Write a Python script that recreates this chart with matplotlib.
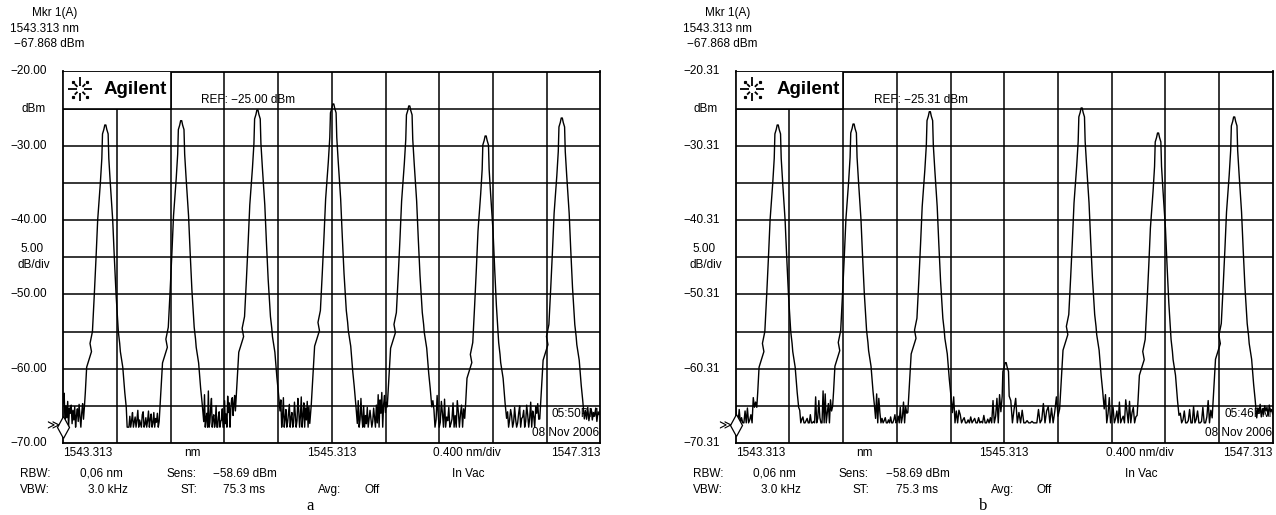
import matplotlib
matplotlib.use("Agg")
import matplotlib.pyplot as plt
import matplotlib.patches as patches
import matplotlib.transforms as mtransforms
import numpy as np

plt.rcParams["font.family"] = ["Liberation Sans", "DejaVu Sans"]

W_PX, H_PX = 1276, 515

# Instrument settings
X_START = 1543.313      # nm
X_STOP = 1547.313       # nm
NM_PER_DIV = 0.400
DB_PER_DIV = 5.0
MKR_NM = 1543.313
MKR_DBM = -67.868

# channel centres, same grid for both traces (nm)
PEAK_NM = [1543.626, 1544.191, 1544.759, 1545.324, 1545.890, 1546.459, 1547.026]

# peak levels (dBm)
PEAK_TOP_A = [-27.20, -26.62, -25.18, -24.37, -24.64, -28.68, -26.26]
PEAK_TOP_B = [-27.51, -27.38, -25.72, -59.50, -25.22, -28.59, -26.43]

FLOOR_A = -67.87
FLOOR_B = -67.60

# measured flank of one channel: dB below the peak vs half width (nm)
SIDE_DROP_DB = [0.0, 0.6, 1.2, 4.5, 7.8, 12.8, 17.8, 22.8, 27.8, 29.4, 30.5, 32.6, 36.0, 38.0, 40.5, 43.0]
LEFT_HALF_NM = [0.004, 0.011, 0.021, 0.026, 0.037, 0.057, 0.069, 0.082, 0.096, 0.114, 0.103, 0.139, 0.149, 0.156, 0.164, 0.175]
RIGHT_HALF_NM = [0.004, 0.011, 0.021, 0.026, 0.037, 0.055, 0.067, 0.080, 0.097, 0.107, 0.112, 0.130, 0.145, 0.156, 0.168, 0.179]

# noise samples between channels (dBm), left edge -> right edge
NOISE_A = [
    [-64.6, -63.3, -67.6, -65.0, -66.6, -64.4, -67.87, -65.3, -66.0, -64.9, -67.4, -65.6, -66.9, -65.1, -67.87,
     -66.3, -65.4, -67.1, -64.8, -66.5, -67.87, -65.9, -64.7, -66.8],
    [-67.87, -67.87, -67.87, -66.4, -67.87, -67.0, -65.9, -67.87, -67.2, -66.5, -67.87, -66.9, -65.6, -67.87,
     -66.9, -67.4, -67.87, -66.2, -65.8, -67.87, -67.5, -66.6, -67.87, -67.0, -65.7, -67.87, -66.8, -66.1,
     -67.87, -67.3, -65.9, -67.87, -66.7, -67.2, -66.0, -67.87],
    [-63.5, -67.87, -66.8, -66.0, -67.87, -63.0, -67.87, -67.2, -65.2, -64.0, -67.87, -66.7, -66.2, -67.87,
     -67.3, -65.0, -67.87, -67.87, -66.5, -65.8, -67.87, -67.1, -66.9, -65.4, -67.87, -67.87, -64.3, -67.4,
     -66.1, -67.87, -63.7, -65.9, -64.6, -67.87, -65.5, -64.2, -63.9, -66.3, -64.8, -63.6],
    [-64.2, -67.87, -66.5, -63.9, -67.87, -66.8, -65.5, -67.87, -67.2, -66.0, -64.8, -67.87, -66.6, -65.9,
     -67.87, -67.3, -64.5, -66.2, -67.87, -67.0, -64.0, -65.6, -67.87, -66.4, -63.8, -67.87, -66.4, -64.6,
     -67.87, -65.3, -66.9, -64.4, -67.87, -65.1],
    [-64.3, -67.87, -66.9, -64.0, -66.5, -67.87, -65.0, -67.87, -66.3, -67.4, -65.2, -67.87, -66.7, -65.6,
     -66.8, -67.87, -67.1, -65.3, -66.6, -67.87, -64.9, -67.3, -63.5, -67.87, -64.2, -66.0, -63.2, -67.87,
     -64.8, -63.6, -65.9, -64.5],
    [-64.3, -65.5, -67.87, -66.9, -63.6, -66.2, -67.87, -67.2, -64.4, -66.0, -67.87, -64.1, -67.87, -66.5,
     -67.0, -65.2, -67.87, -67.4, -66.8, -64.6, -67.87, -66.3, -67.87, -64.3, -65.8, -67.87, -66.1, -64.9,
     -67.87, -65.4],
    [-65.8, -67.87, -66.9, -65.5, -66.3, -67.87, -67.2, -65.2, -66.8, -67.87, -67.3, -66.0, -65.0, -67.87,
     -66.7, -66.5, -65.6, -67.87, -67.1, -64.9, -66.2, -67.87, -66.6, -64.5, -67.87, -65.7, -66.4, -67.87,
     -65.1, -66.0, -64.7, -66.8],
    [-65.6, -66.8, -65.2, -67.0, -66.0, -65.4, -66.9, -65.9, -66.4, -65.3, -67.1, -65.8, -66.2, -65.5],
]
NOISE_B = [
    [-65.4, -67.6, -67.6, -65.8, -67.6, -66.9, -67.6, -67.6, -66.0, -67.6, -65.6, -67.6, -67.2, -66.5, -67.6,
     -64.2, -65.5, -64.8],
    [-65.9, -67.6, -67.1, -66.8, -67.6, -67.6, -67.3, -67.0, -67.6, -67.6, -66.5, -67.6, -67.6, -67.4, -67.6,
     -64.1, -67.6, -67.0, -64.6, -66.9, -67.6, -67.6, -63.3, -67.6, -63.7, -67.6, -66.2, -65.0, -67.6, -64.5,
     -66.0],
    [-67.0, -63.7, -67.6, -64.3, -66.2, -67.6, -67.0, -67.6, -67.3, -66.9, -67.6, -67.6, -67.2, -67.6, -66.8,
     -67.6, -67.6, -67.2, -66.5, -67.6, -67.4, -66.7, -67.6, -65.5, -67.6, -66.8, -64.8, -67.6, -65.4, -66.3],
    [-64.1, -67.6, -66.0, -67.6, -65.9, -66.5, -67.6, -67.2, -66.9, -67.6, -67.6, -67.2, -67.6, -66.8, -67.6,
     -67.3, -67.0, -67.6, -67.6, -66.9, -67.6, -67.4, -67.6, -66.6, -67.6, -67.6, -67.1, -67.6, -66.9, -67.6,
     -64.6, -67.6, -66.7, -64.3, -67.6, -63.8, -66.1],
    [-64.6, -67.6, -65.8, -64.3, -67.6, -66.2, -67.6, -65.9, -67.6, -67.6, -67.3, -67.6, -67.6, -67.4, -67.6,
     -67.6, -67.6, -65.8, -67.6, -67.2, -65.0, -67.6, -66.0, -65.4, -67.6, -65.6, -67.6, -66.1, -64.1, -66.7],
    [-63.8, -67.6, -66.4, -64.2, -67.6, -66.5, -65.5, -67.6, -67.0, -66.0, -67.6, -64.8, -67.6, -67.1, -66.7,
     -67.6, -64.5, -66.0, -67.6, -64.7, -67.6, -66.2, -65.5, -67.6, -66.8],
    [-66.3, -67.6, -67.2, -66.0, -67.6, -67.6, -67.3, -65.8, -67.6, -67.6, -65.4, -67.6, -67.1, -66.0, -67.6,
     -67.6, -67.4, -65.5, -67.6, -67.6, -66.8, -64.6, -67.6, -65.9],
    [-65.6, -66.3, -65.1, -66.8, -65.7, -66.5, -65.3, -66.0, -65.5, -66.7, -65.2, -66.1, -65.8, -66.4],
]

Y_LABELS_A = [-20.00, -30.00, -40.00, -50.00, -60.00, -70.00]
Y_LABELS_B = [-20.31, -30.31, -40.31, -50.31, -60.31, -70.31]
REF_A = -25.00
REF_B = -25.31
CLOCK_A = "05:50PM"
CLOCK_B = "05:46PM"
DATE = "08 Nov 2006"

# page layout (pixels of the 1276x515 sheet)
BOX_LEFT_PX = [63.3, 735.7]
BOX_W_PX = 537.0
BOX_TOP_PX = 71.5
BOX_BOTTOM_PX = 443.0
FS = 8.5


def mnus(s):
    return s.replace("-", "\u2212")


def build_trace(tops, floor, noise):
    drop = np.array(SIDE_DROP_DB)
    lh = np.array(LEFT_HALF_NM)
    rh = np.array(RIGHT_HALF_NM)
    xs, ys = [], []
    prev_x = None
    for i, (c, top) in enumerate(zip(PEAK_NM, tops)):
        keep = top - drop > floor + 0.4
        lx = (c - lh[keep])[::-1]
        ly = (top - drop[keep])[::-1]
        gap = noise[i]
        if prev_x is None:
            gx = np.linspace(X_START, lx[0], len(gap) + 1)[:-1]
        else:
            gx = np.linspace(prev_x, lx[0], len(gap) + 2)[1:-1]
        xs += list(gx) + list(lx)
        ys += list(gap) + list(ly)
        rx = c + rh[keep]
        ry = top - drop[keep]
        xs += list(rx)
        ys += list(ry)
        prev_x = rx[-1]
    gap = noise[-1]
    gx = np.linspace(prev_x, X_STOP, len(gap) + 1)[1:]
    xs += list(gx)
    ys += list(gap)
    return np.array(xs), np.array(ys)


def draw_logo(ax, box_h_px):
    # starburst left of the "Agilent" word
    cx = (80.0 - 63.3) / BOX_W_PX
    cy = 1.0 - (89.3 - BOX_TOP_PX) / box_h_px
    for k in range(8):
        ang = np.deg2rad(45 * k)
        r0, r1 = (3.5, 12.0) if k % 2 == 0 else (3.5, 7.5)
        x0 = cx + r0 * np.cos(ang) / BOX_W_PX
        x1 = cx + r1 * np.cos(ang) / BOX_W_PX
        y0 = cy + r0 * np.sin(ang) / box_h_px
        y1 = cy + r1 * np.sin(ang) / box_h_px
        ax.plot([x0, x1], [y0, y1], color="black", lw=1.3, transform=ax.transAxes,
                zorder=5, solid_capstyle="butt")
        if k % 2 == 1:
            ax.plot(cx + 10.5 * np.cos(ang) / BOX_W_PX, cy + 10.5 * np.sin(ang) / box_h_px,
                    "s", ms=1.3, color="black", transform=ax.transAxes, zorder=5)
    ax.text((104.0 - 63.3) / BOX_W_PX, cy, "Agilent", transform=ax.transAxes,
            fontsize=13.5, fontweight="bold", ha="left", va="center", zorder=5)


def draw_panel(fig, left_px, y_labels, tops, floor, noise, ref, clock, letter):
    box_h_px = BOX_BOTTOM_PX - BOX_TOP_PX
    ax = fig.add_axes([left_px / W_PX, 1 - BOX_BOTTOM_PX / H_PX,
                       BOX_W_PX / W_PX, box_h_px / H_PX])
    y_top = y_labels[0]
    ax.set_xlim(X_START, X_STOP)
    ax.set_ylim(y_top - 10 * DB_PER_DIV, y_top)
    ax.set_xticks([])
    ax.set_yticks([])
    for sp in ax.spines.values():
        sp.set_linewidth(1.3)
        sp.set_color("black")

    for k in range(1, 10):
        ax.axvline(X_START + k * NM_PER_DIV, color="black", lw=1.1, zorder=1)
        ax.axhline(y_top - k * DB_PER_DIV, color="black", lw=1.1, zorder=1)

    # logo box covering the top-left grid cell
    ax.add_patch(patches.Rectangle((X_START, y_top - DB_PER_DIV), 0.802, DB_PER_DIV,
                                   facecolor="white", edgecolor="black", lw=1.2, zorder=4))
    draw_logo(ax, box_h_px)

    x, y = build_trace(tops, floor, noise)
    ax.plot(x, y, color="black", lw=1.0, zorder=3)

    ax.plot([MKR_NM], [MKR_DBM], marker="d", ms=11, mfc="white", mec="black",
            mew=0.9, clip_on=False, zorder=6)

    def put(dx, ypx, s, **kw):
        kw.setdefault("fontsize", FS)
        kw.setdefault("va", "center")
        fig.text((left_px + dx) / W_PX, 1 - ypx / H_PX, s, **kw)

    # left scale
    blend = mtransforms.blended_transform_factory(ax.transAxes, ax.transData)
    for v in y_labels:
        ax.text(-16.0 / BOX_W_PX, v, mnus(f"{v:.2f}"), transform=blend, ha="right",
                va="center", fontsize=FS, clip_on=False)
    ax.text(-18.0 / BOX_W_PX, y_top - DB_PER_DIV, "dBm", transform=blend, ha="right",
            va="center", fontsize=FS, clip_on=False)
    put(-43, 249, f"{DB_PER_DIV:.2f}", ha="left")
    put(-46, 265, "dB/div", ha="left")

    # marker readout
    put(-31, 13, "Mkr 1(A)", ha="left")
    put(-53, 29, f"{MKR_NM:.3f} nm", ha="left")
    put(-49, 44, mnus(f"{MKR_DBM:.3f} dBm"), ha="left")
    put(-4, 426, "\u226b", ha="right", fontsize=9, family="DejaVu Sans")

    put(138, 100, mnus(f"REF: {ref:.2f} dBm"), ha="left")

    put(BOX_W_PX - 1, 414, clock, ha="right", zorder=0.5)
    put(BOX_W_PX - 1, 433, DATE, ha="right", zorder=0.5)

    # wavelength axis
    put(0, 453, f"{X_START:.3f}", ha="left")
    put(129, 453, "nm", ha="center")
    put(BOX_W_PX / 2, 453, f"{(X_START + X_STOP) / 2:.3f}", ha="center")
    put(404, 453, f"{NM_PER_DIV:.3f} nm/div", ha="center")
    put(BOX_W_PX, 453, f"{X_STOP:.3f}", ha="right")

    # settings block
    put(-43, 474, "RBW:", ha="left")
    put(17, 474, "0,06 nm", ha="left")
    put(103, 474, "Sens:", ha="left")
    put(150, 474, mnus("-58.69 dBm"), ha="left")
    put(389, 474, "In Vac", ha="left")
    put(-43, 490, "VBW:", ha="left")
    put(25, 490, "3.0 kHz", ha="left")
    put(117, 490, "ST:", ha="left")
    put(160, 490, "75.3 ms", ha="left")
    put(255, 490, "Avg:", ha="left")
    put(301, 490, "Off", ha="left")

    put(247, 506, letter, ha="center", fontsize=12, family="Liberation Serif")
    return ax


fig = plt.figure(figsize=(W_PX / 100, H_PX / 100), dpi=100)
fig.patch.set_facecolor("white")

draw_panel(fig, BOX_LEFT_PX[0], Y_LABELS_A, PEAK_TOP_A, FLOOR_A, NOISE_A, REF_A, CLOCK_A, "a")
draw_panel(fig, BOX_LEFT_PX[1], Y_LABELS_B, PEAK_TOP_B, FLOOR_B, NOISE_B, REF_B, CLOCK_B, "b")

fig.savefig("out.png", dpi=100)
